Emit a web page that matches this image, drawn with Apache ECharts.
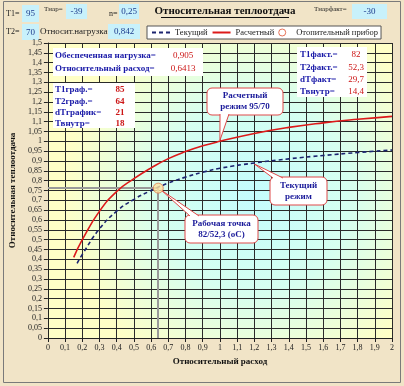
<!DOCTYPE html>
<html><head><meta charset="utf-8">
<script src="https://cdn.jsdelivr.net/npm/echarts@6/dist/echarts.min.js"></script>
<style>html,body{margin:0;padding:0;background:#f1e4c7;}#c{width:404px;height:386px;}</style>
</head><body><div id="c"></div>
<script>
// ---- data ----
const redX = [0.15,0.2,0.3,0.4,0.5,0.6,0.7,0.8,0.9,1.0,1.2,1.4,1.6,1.8,2.0];
const redY = [0.41,0.50,0.645,0.745,0.81,0.865,0.912,0.948,0.977,1.0,1.04,1.071,1.094,1.112,1.127];
const blueX = [0.17,0.2,0.3,0.4,0.5,0.6,0.7,0.8,0.9,1.0,1.2,1.4,1.6,1.8,2.0];
const blueY = [0.38,0.425,0.555,0.645,0.705,0.75,0.788,0.818,0.843,0.863,0.89,0.911,0.928,0.943,0.956];
const workX = 0.6413;
const workY = 0.762;
const designPoint = [1.0, 1.0];
const currentPoint = [1.2, 0.89];
const seriesNames = ['Текущий','Расчетный','Отопительный прибор'];
const headerVals = {T1:'95', T2:'70', Tnar:'-39', n:'0,25', load:'0,842', TnarFact:'-30'};
const box1 = [['Обеспеченная нагрузка=','0,905'],['Относительный расход=','0,6413']];
const box2 = [['T1граф.=','85'],['T2граф.=','64'],['dTграфик=','21'],['Твнутр=','18']];
const box3 = [['T1факт.=','82'],['T2факт.=','52,3'],['dTфакт=','29,7'],['Твнутр=','14,4']];

const SERIF = '"Liberation Serif", "DejaVu Serif", serif';
const BLUE = '#1a1aa8', RED = '#cc1515';
function fmt(v){ const r = Math.round(v*100)/100; return String(r).replace('.', ','); }
function zip(xs, ys){ return xs.map((x,i)=>[x, ys[i]]); }

const chart = echarts.init(document.getElementById('c'));
const hideSym = {color:'rgba(0,0,0,0)', borderWidth:0, opacity:0};

const option = {
  backgroundColor: '#f1e4c7',
  animation: false,
  grid: {left:42, top:43, right:12, bottom:48, show:true, borderWidth:0,
    backgroundColor: {type:'radial', x:0.6, y:0.52, r:0.65,
      colorStops:[{offset:0,color:'#c4fcfd'},{offset:0.5,color:'#d6fff0'},{offset:1,color:'#ffffc6'}]}},
  legend: {
    left:147, top:26, backgroundColor:'#ffffff', borderColor:'#555', borderWidth:1,
    padding:[2,3,2,4], itemGap:4, itemWidth:18, itemHeight:7,
    textStyle:{fontFamily:SERIF, fontSize:8.5, color:'#222'},
    data:[
      {name:seriesNames[0], itemStyle:hideSym},
      {name:seriesNames[1], itemStyle:hideSym},
      {name:seriesNames[2], icon:'circle', itemStyle:{color:'#ffffff', borderColor:'#e05030', borderWidth:1}}
    ]
  },
  xAxis: {
    type:'value', min:0, max:2, interval:0.1,
    name:'Относительный расход', nameLocation:'middle', nameGap:19,
    nameTextStyle:{fontFamily:SERIF, fontSize:9, fontWeight:'bold', color:'#111'},
    axisLine:{lineStyle:{color:'#222'}},
    axisTick:{show:true, length:4, lineStyle:{color:'#222'}},
    axisLabel:{formatter:fmt, fontFamily:SERIF, fontSize:8, color:'#222', margin:6},
    splitLine:{show:true, lineStyle:{color:'#2a2a2a', width:1}}
  },
  yAxis: {
    type:'value', min:0, max:1.5, interval:0.05,
    name:'Относительная теплоотдача', nameLocation:'middle', nameGap:27,
    nameTextStyle:{fontFamily:SERIF, fontSize:9, fontWeight:'bold', color:'#111'},
    axisLine:{show:true, lineStyle:{color:'#222'}},
    axisTick:{show:true, length:4, lineStyle:{color:'#222'}},
    axisLabel:{formatter:fmt, fontFamily:SERIF, fontSize:8, color:'#222', margin:6},
    splitLine:{show:true, lineStyle:{color:'#2a2a2a', width:1}}
  },
  series: [
    {name:seriesNames[0], type:'line', data:zip(blueX, blueY), smooth:0.5, symbol:'none',
      lineStyle:{color:'#1c2470', width:1.6, type:[4,3]}, itemStyle:{color:'#1c2470'}, z:3},
    {name:seriesNames[1], type:'line', data:zip(redX, redY), smooth:0.5, symbol:'none',
      lineStyle:{color:'#dd1a1a', width:1.6}, itemStyle:{color:'#dd1a1a'}, z:3},
    {name:seriesNames[2], type:'scatter', data:[[workX, workY]], symbol:'circle', symbolSize:10,
      itemStyle:{color:'#ffe2a0', borderColor:'#e07a50', borderWidth:1}, z:5,
      markLine:{silent:true, symbol:'none', label:{show:false}, z:2,
        lineStyle:{color:'#9a9a9a', width:2, type:'solid'},
        data:[[{coord:[0, workY]},{coord:[workX, workY]}],[{coord:[workX, workY]},{coord:[workX, 0]}]]}}
  ]
};
chart.setOption(option);

// ---- annotations ----
const g = [];
g.push({type:'rect', shape:{x:3.5,y:1.5,width:397,height:381}, style:{fill:'none', stroke:'#7a7a7a', lineWidth:1}, silent:true});
g.push({type:'text', x:225, y:11, style:{text:'Относительная теплоотдача', font:'bold 11px '+SERIF, fill:'#111', align:'center', verticalAlign:'middle'}});
g.push({type:'line', shape:{x1:161,y1:17.5,x2:289,y2:17.5}, style:{stroke:'#111', lineWidth:1}});

function label(x,y,t,size,color,align,bold){
  g.push({type:'text', x:x, y:y, style:{text:t, font:(bold?'bold ':'')+size+'px '+SERIF, fill:color||'#222', align:align||'left', verticalAlign:'middle'}});
}
function cbox(x,y,w,h,t){
  g.push({type:'rect', shape:{x:x,y:y,width:w,height:h}, style:{fill:'#c8f1fb'}});
  label(x+w/2, y+h/2+0.5, t, 9, '#1b3a8c', 'center');
}
label(6,14,'T1=',8,'#222'); cbox(22,5,17,17,headerVals.T1);
label(44,9,'Тнар=',7,'#222'); cbox(66,4,21,15,headerVals.Tnar);
label(109,14,'n=',8,'#222'); cbox(119,4,20,15,headerVals.n);
label(6,32,'T2=',8,'#222'); cbox(22,24,17,16,headerVals.T2);
label(40,32,'Относит.нагрузка=',9,'#222'); cbox(108,24,32,15,headerVals.load);
label(314,9,'Тнарфакт=',7,'#222'); cbox(352,4,35,15,headerVals.TnarFact);

g.push({type:'rect', shape:{x:53,y:48,width:150,height:28}, style:{fill:'#ffffff'}});
box1.forEach((r,i)=>{ const y = 56 + i*13; label(55,y,r[0],9,BLUE,'left',true); label(183,y,r[1],9,RED,'center',false); });
g.push({type:'rect', shape:{x:53,y:83,width:82,height:45}, style:{fill:'#ffffff'}});
box2.forEach((r,i)=>{ const y = 90 + i*11.3; label(55,y,r[0],9,BLUE,'left',true); label(120,y,r[1],9,RED,'center',true); });
g.push({type:'rect', shape:{x:297,y:47,width:70,height:50}, style:{fill:'#ffffff'}});
box3.forEach((r,i)=>{ const y = 55 + i*12.2; label(300,y,r[0],9,BLUE,'left',true); label(356,y,r[1],9,RED,'center',false); });

function callout(rx,ry,rw,rh,baseA,baseB,tip,lines){
  g.push({type:'rect', shape:{x:rx,y:ry,width:rw,height:rh,r:5}, style:{fill:'#ffffff', stroke:'#e04848', lineWidth:1}});
  g.push({type:'polygon', shape:{points:[baseA,baseB,tip]}, style:{fill:'#ffffff'}});
  g.push({type:'polyline', shape:{points:[baseA,tip,baseB]}, style:{stroke:'#e04848', lineWidth:1, fill:'none'}});
  lines.forEach((t,i)=>{
    g.push({type:'text', x:rx+rw/2, y:ry+rh/2+(i-(lines.length-1)/2)*11, style:{text:t, font:'bold 9px '+SERIF, fill:'#1a1a9a', align:'center', verticalAlign:'middle'}});
  });
}
const pDesign = chart.convertToPixel({gridIndex:0}, designPoint);
const pCur = chart.convertToPixel({gridIndex:0}, currentPoint);
const pWork = chart.convertToPixel({gridIndex:0}, [workX, workY]);
callout(207,88,76,27,[220,114],[229,114],[pDesign[0],pDesign[1]-1],['Расчетный','режим 95/70']);
callout(270,177,57,28,[273,178],[283,178],[pCur[0],pCur[1]+1],['Текущий','режим']);
callout(185,215,73,28,[190,216],[199,216],[pWork[0]+3,pWork[1]+2],['Рабочая точка','82/52,3 (oC)']);

chart.setOption({graphic:{elements:g}});
</script></body></html>
